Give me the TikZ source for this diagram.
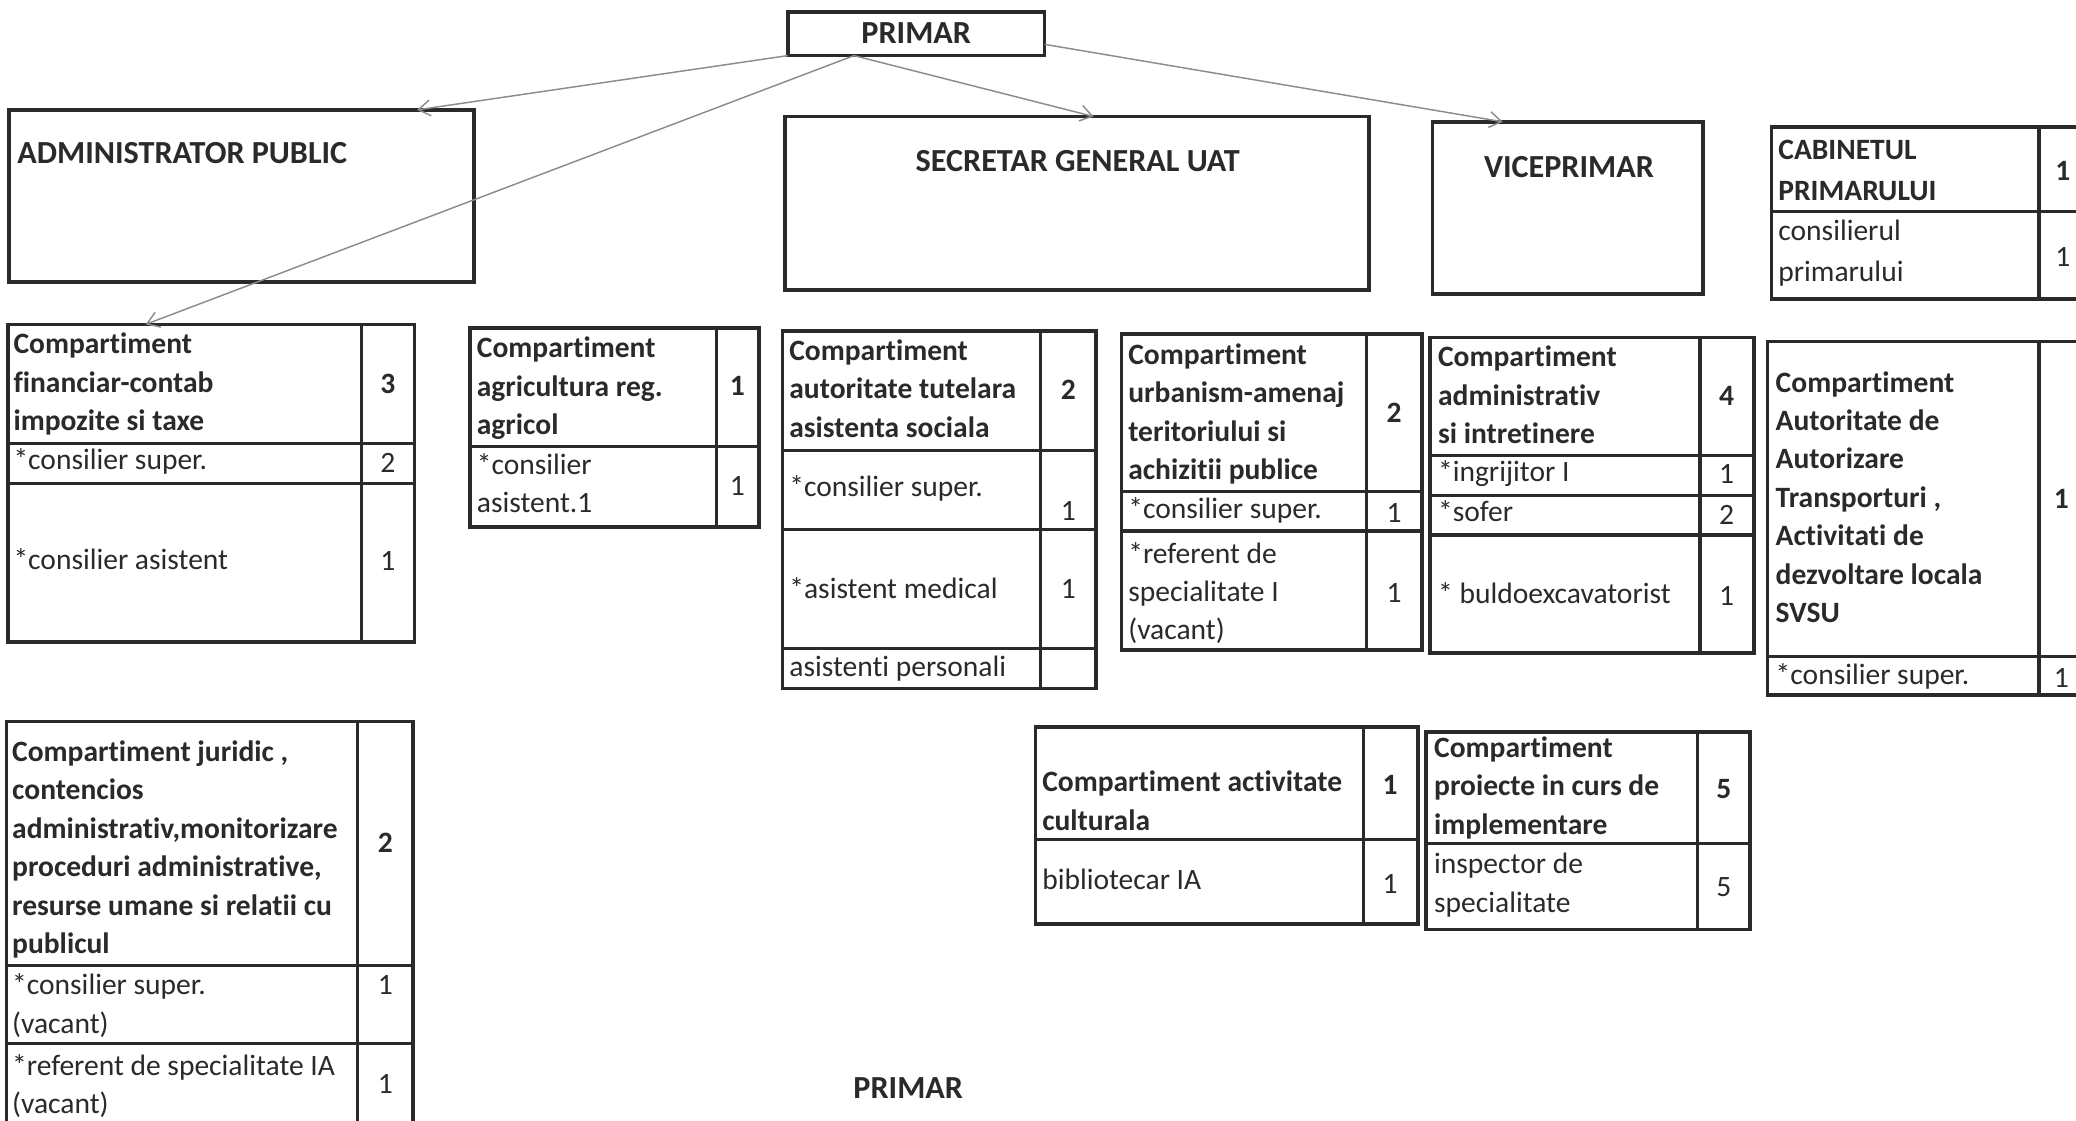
\documentclass[tikz,border=0pt]{standalone}
\usepackage{fontspec}
\setmainfont{Carlito}[Ligatures={NoCommon}]
\usetikzlibrary{arrows.meta,calc}
\definecolor{ink}{HTML}{2A2A2A}
\definecolor{arrowgray}{HTML}{8C8C8C}
\newcommand\tbox[5]{\node[box, minimum width={#4-#2}, minimum height={#5-#3}, anchor=north west] (#1) at (#2,#3) {};}
\begin{document}
\begin{tikzpicture}[x=1pt,y=-1pt,
  box/.style={draw=ink, line width=2.8pt, inner sep=0pt, outer sep=0pt},
  grid/.style={draw=ink, line width=2.5pt},
  cell/.style={anchor=north west, yshift=13.7pt, inner sep=0pt, align=left, text=ink,
    font=\fontsize{22.3}{29}\selectfont, execute at begin node=\strut},
  mcell/.style={cell, yshift=-6pt},
  hcell/.style={cell, font=\fontsize{22.3}{29}\selectfont\bfseries},
  mhcell/.style={hcell, yshift=-6pt},
  num/.style={inner sep=0pt, text=ink, text height=14pt, text depth=0pt, font=\fontsize{22.3}{29}\selectfont},
  hnum/.style={num, font=\fontsize{22.3}{29}\selectfont\bfseries},
  title/.style={inner sep=0pt, text=ink, text height=15.5pt, text depth=0pt, font=\fontsize{24.3}{29}\selectfont\bfseries},
  link/.style={draw=arrowgray, line width=1.1pt, -{Straight Barb[length=9pt,width=12pt]}},
]
\useasboundingbox (0,0) rectangle (1568,846);
\fill[white] (0,0) rectangle (1568,846);
\clip (0,0) rectangle (1568,846);

% ---- top level boxes
\tbox{primar}{595}{9}{789}{42}
\node[title] (primarT) at (692,25) {PRIMAR};
\tbox{admin}{7}{83}{358}{213}
\node[title, anchor=west] (adminT) at (13,116) {ADMINISTRATOR PUBLIC};
\tbox{secretar}{593}{88}{1034}{219}
\node[title] (secretarT) at (814,122) {SECRETAR GENERAL UAT};
\tbox{vice}{1082}{92}{1286}{222}
\node[title] (viceT) at (1185,126) {VICEPRIMAR};

% ---- cabinet
\tbox{cab}{1338}{96}{1590}{226}
\draw[grid] (1540,96) -- (1540,226);
\draw[grid] (1338,160) -- (1590,160);
\node[mhcell] (cabH) at (1343,113) {CABINETUL\\[2pt]PRIMARULUI};
\node[hnum] (cabN) at (1558,129) {1};
\node[mcell] (cab1) at (1343,174) {consilierul\\[2pt]primarului};
\node[num] (cab1N) at (1558,194) {1};

% ---- financiar
\tbox{fin}{6}{245}{313}{485}
\draw[grid] (273,245) -- (273,485);
\draw[grid] (6,335) -- (313,335);
\draw[grid] (6,365) -- (313,365);
\node[mhcell] (finH) at (10,259) {Compartiment\\financiar-contab\\impozite si taxe};
\node[hnum] (finN) at (293,290) {3};
\node[cell] (fin1) at (10,348) {*consilier super.};
\node[num] (fin1N) at (293,350) {2};
\node[cell] (fin2) at (10,423) {*consilier asistent};
\node[num] (fin2N) at (293,424) {1};

% ---- agricultura
\tbox{agr}{355}{248}{573}{398}
\draw[grid] (541,248) -- (541,398);
\draw[grid] (355,337) -- (573,337);
\node[mhcell] (agrH) at (360,262) {Compartiment\\agricultura reg.\\agricol};
\node[hnum] (agrN) at (557,292) {1};
\node[mcell] (agr1) at (360,350) {*consilier\\asistent.1};
\node[num] (agr1N) at (557,367) {1};

% ---- autoritate tutelara
\tbox{tut}{591}{250}{828}{520}
\draw[grid] (786,250) -- (786,520);
\draw[grid] (591,340) -- (828,340);
\draw[grid] (591,400) -- (828,400);
\draw[grid] (591,490) -- (828,490);
\node[mhcell] (tutH) at (596,264) {Compartiment\\autoritate tutelara\\asistenta sociala};
\node[hnum] (tutN) at (807,295) {2};
\node[cell] (tut1) at (596,368) {*consilier super.};
\node[num] (tut1N) at (807,386) {1};
\node[cell] (tut2) at (596,445) {*asistent medical};
\node[num] (tut2N) at (807,445) {1};
\node[cell] (tut3) at (596,504) {asistenti personali};

% ---- urbanism
\tbox{urb}{847}{252}{1074}{491}
\draw[grid] (1032,252) -- (1032,491);
\draw[grid] (847,371) -- (1074,371);
\draw[grid] (847,401) -- (1074,401);
\node[mhcell] (urbH) at (852,267) {Compartiment\\urbanism-amenaj\\teritoriului si\\achizitii publice};
\node[hnum] (urbN) at (1053,312) {2};
\node[cell] (urb1) at (852,385) {*consilier super.};
\node[num] (urb1N) at (1053,388) {1};
\node[mcell] (urb2) at (852,417) {*referent de\\specialitate I\\(vacant)};
\node[num] (urb2N) at (1053,448) {1};

% ---- administrativ
\tbox{adm}{1080}{255}{1325}{493}
\draw[grid] (1284,255) -- (1284,493);
\draw[grid] (1080,344) -- (1325,344);
\draw[grid] (1080,374) -- (1325,374);
\draw[grid] (1080,404) -- (1325,404);
\node[mhcell] (admH) at (1086,269) {Compartiment\\administrativ\\si intretinere};
\node[hnum] (admN) at (1304,299) {4};
\node[cell] (adm1) at (1086,357) {*ingrijitor I};
\node[num] (adm1N) at (1304,358) {1};
\node[cell] (adm2) at (1086,387) {*sofer};
\node[num] (adm2N) at (1304,389) {2};
\node[cell] (adm3) at (1086,449) {* buldoexcavatorist};
\node[num] (adm3N) at (1304,450) {1};

% ---- autorizare transporturi
\tbox{aut}{1335}{258}{1590}{525}
\draw[grid] (1540,258) -- (1540,525);
\draw[grid] (1335,496) -- (1590,496);
\node[mhcell] (autH) at (1341,288) {Compartiment\\Autoritate de\\Autorizare\\Transporturi ,\\Activitati de\\dezvoltare locala\\SVSU};
\node[hnum] (autN) at (1557,377) {1};
\node[cell] (aut1) at (1341,510) {*consilier super.};
\node[num] (aut1N) at (1557,512) {1};

% ---- juridic
\tbox{jur}{5}{545}{312}{870}
\draw[grid] (270,545) -- (270,870);
\draw[grid] (5,729) -- (312,729);
\draw[grid] (5,788) -- (312,788);
\node[mhcell] (jurH) at (9,567) {Compartiment juridic ,\\contencios\\administrativ,monitorizare\\proceduri administrative,\\resurse umane si relatii cu\\publicul};
\node[hnum] (jurN) at (291,637) {2};
\node[mcell] (jur1) at (9,743) {*consilier super.\\(vacant)};
\node[num] (jur1N) at (291,744) {1};
\node[mcell] (jur2) at (9,804) {*referent de specialitate IA\\(vacant)};
\node[num] (jur2N) at (291,819) {1};

% ---- activitate culturala
\tbox{cult}{782}{549}{1071}{698}
\draw[grid] (1030,549) -- (1030,698);
\draw[grid] (782,634) -- (1071,634);
\node[mhcell] (cultH) at (787,590) {Compartiment activitate\\culturala};
\node[hnum] (cultN) at (1050,593) {1};
\node[cell] (cult1) at (787,665) {bibliotecar IA};
\node[num] (cult1N) at (1050,668) {1};

% ---- proiecte
\tbox{proj}{1077}{553}{1322}{702}
\draw[grid] (1282,553) -- (1282,702);
\draw[grid] (1077,637) -- (1322,637);
\node[mhcell] (projH) at (1083,564) {Compartiment\\proiecte in curs de\\implementare};
\node[hnum] (projN) at (1302,596) {5};
\node[mcell] (proj1) at (1083,652) {inspector de\\specialitate};
\node[num] (proj1N) at (1302,670) {5};

% ---- bottom label
\node[title] (primarB) at (686,822) {PRIMAR};

% ---- connectors
\draw[link] (primar.south west) -- ($(admin.north west)+(308,0)$);
\draw[link] ($(primar.south west)+(50,0)$) -- ($(fin.north west)+(104,0)$);
\draw[link] ($(primar.south west)+(50,0)$) -- ($(secretar.north west)+(233,0)$);
\draw[link] ($(primar.east)+(0,8)$) -- ($(vice.north west)+(53,0)$);
\end{tikzpicture}
\end{document}
